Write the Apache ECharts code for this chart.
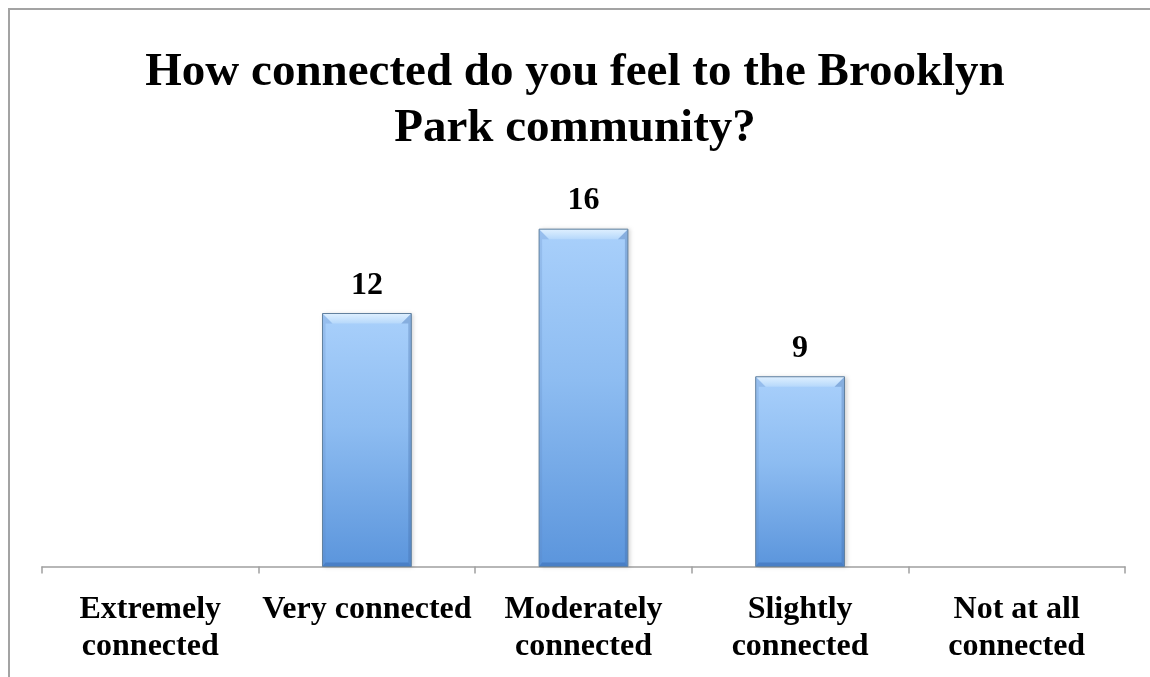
<!DOCTYPE html>
<html>
<head>
<meta charset="utf-8">
<script src="https://cdn.jsdelivr.net/npm/echarts@6/dist/echarts.min.js"></script>
<style>
  html, body { margin: 0; padding: 0; background: #ffffff; }
  #chart { width: 1150px; height: 677px; }
</style>
</head>
<body>
<div id="chart"></div>
<script>
// Survey question and answer counts
const chartTitle = 'How connected do you feel to the Brooklyn\nPark community?';
const categories = [
  'Extremely\nconnected',
  'Very connected',
  'Moderately\nconnected',
  'Slightly\nconnected',
  'Not at all\nconnected'
];
const responses = [0, 12, 16, 9, 0];
const yMax = 18;

const FONT = '"Liberation Serif", "Times New Roman", serif';

// Beveled bar: body with vertical gradient plus lighter top bevel and darker sides
function renderBevelBar(params, api) {
  const idx = api.value(0);
  const val = api.value(1);
  if (!val) return null;
  const top = api.coord([idx, val]);
  const base = api.coord([idx, 0]);
  const w = api.size([1, 0])[0] * 0.41;
  const x = top[0] - w / 2;
  const y = top[1];
  const h = base[1] - top[1];
  const bv = 10;  // top bevel depth
  const sv = 3;   // side bevel width
  const bb = 4;   // bottom bevel depth
  return {
    type: 'group',
    children: [
      {
        type: 'rect',
        shape: { x: x, y: y, width: w, height: h },
        style: {
          fill: new echarts.graphic.LinearGradient(0, 0, 0, 1, [
            { offset: 0, color: '#a9d0fb' },
            { offset: 0.45, color: '#8dbcf1' },
            { offset: 1, color: '#5b95dc' }
          ]),
          shadowBlur: 4,
          shadowOffsetX: 2,
          shadowOffsetY: 0,
          shadowColor: 'rgba(0,0,0,0.18)'
        }
      },
      {
        type: 'polygon',
        shape: { points: [[x, y], [x + w, y], [x + w - bv, y + bv], [x + bv, y + bv]] },
        style: {
          fill: new echarts.graphic.LinearGradient(0, 0, 0, 1, [
            { offset: 0, color: '#dff0ff' },
            { offset: 1, color: '#b6d8fb' }
          ])
        }
      },
      {
        type: 'polygon',
        shape: { points: [[x, y], [x + bv, y + bv], [x + sv, y + bv], [x + sv, y + h - bb], [x, y + h]] },
        style: { fill: 'rgba(90,130,190,0.22)' }
      },
      {
        type: 'polygon',
        shape: { points: [[x + w, y], [x + w - bv, y + bv], [x + w - sv, y + bv], [x + w - sv, y + h - bb], [x + w, y + h]] },
        style: { fill: 'rgba(60,100,160,0.30)' }
      },
      {
        type: 'polygon',
        shape: { points: [[x, y + h], [x + sv, y + h - bb], [x + w - sv, y + h - bb], [x + w, y + h]] },
        style: { fill: 'rgba(50,100,170,0.45)' }
      },
      {
        type: 'rect',
        shape: { x: x, y: y, width: w, height: h },
        style: { fill: 'none', stroke: '#62819f', lineWidth: 1 }
      },
      {
        type: 'text',
        x: top[0],
        y: y - 12,
        style: {
          text: String(val),
          fill: '#000000',
          font: 'bold 32px ' + FONT,
          align: 'center',
          verticalAlign: 'bottom'
        }
      }
    ]
  };
}

const chart = echarts.init(document.getElementById('chart'), null, { renderer: 'canvas' });

chart.setOption({
  animation: false,
  backgroundColor: '#ffffff',
  graphic: [
    {
      type: 'line',
      shape: { x1: 8, y1: 9, x2: 1150, y2: 9 },
      style: { stroke: '#a3a3a3', lineWidth: 2 }
    },
    {
      type: 'line',
      shape: { x1: 9, y1: 8, x2: 9, y2: 677 },
      style: { stroke: '#a3a3a3', lineWidth: 2 }
    },
    {
      type: 'text',
      x: 575,
      y: 45,
      style: {
        text: chartTitle,
        font: 'bold 47px ' + FONT,
        lineHeight: 56,
        fill: '#000000',
        align: 'center',
        verticalAlign: 'top'
      }
    }
  ],
  grid: { left: 42, right: 25, top: 187, bottom: 110.5, containLabel: false },
  xAxis: {
    type: 'category',
    data: categories,
    axisLine: { show: true, lineStyle: { color: '#a0a0a0', width: 1.5 } },
    axisTick: { show: true, length: 7, lineStyle: { color: '#a0a0a0', width: 1.5 } },
    axisLabel: {
      interval: 0,
      margin: 25,
      color: '#000000',
      fontFamily: FONT,
      fontWeight: 'bold',
      fontSize: 32,
      lineHeight: 37
    }
  },
  yAxis: {
    type: 'value',
    min: 0,
    max: yMax,
    show: false,
    splitLine: { show: false }
  },
  series: [
    {
      type: 'custom',
      renderItem: renderBevelBar,
      encode: { x: 0, y: 1 },
      data: responses.map((v, i) => [i, v]),
      z: 3
    }
  ]
});
</script>
</body>
</html>
